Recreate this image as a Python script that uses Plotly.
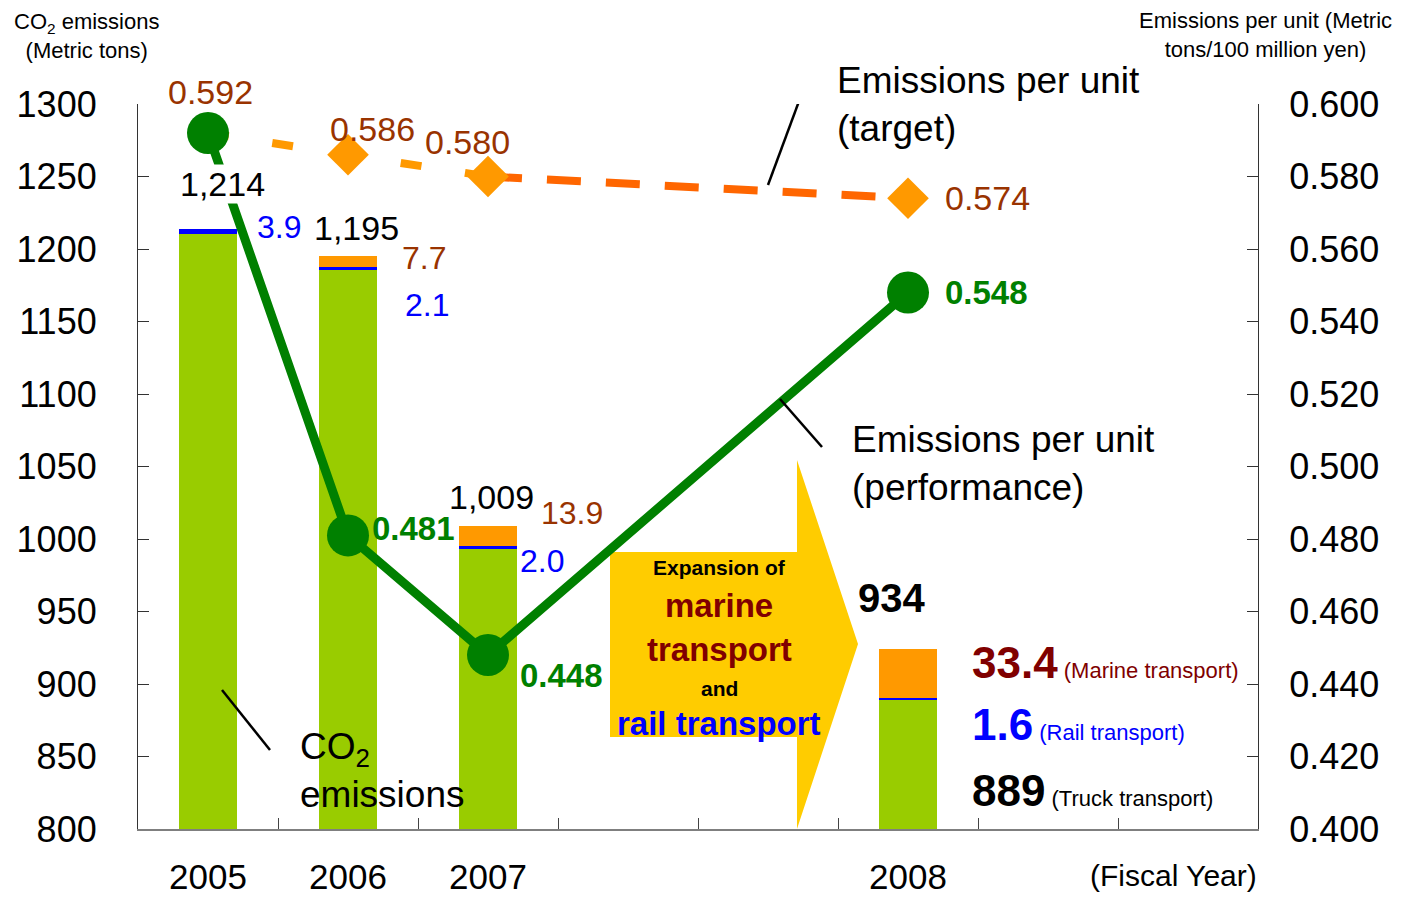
import plotly.graph_objects as go

# ---- data ---------------------------------------------------------------
years = ["2005", "2006", "2007", "2008"]
total_co2 = [1214, 1195, 1009, 934]          # metric tons
truck_co2 = [1210.1, 1185.2, 993.1, 889.0]
rail_co2 = [3.9, 2.1, 2.0, 1.6]
marine_co2 = [0.0, 7.7, 13.9, 33.4]
unit_target = [0.592, 0.586, 0.580, 0.574]   # t / 100 million yen
unit_actual = [0.592, 0.481, 0.448, 0.548]

# ---- layout constants ---------------------------------------------------
W, H = 1401, 897
L, R, T, B = 138, 143, 104, 68
X_SLOT = [0.5, 1.5, 2.5, 5.5]   # category centres on an 8-slot axis
FONT = "Liberation Sans, Arial, Helvetica, sans-serif"

GREEN_BAR = "#99CC00"
BLUE = "#0000FF"
ORANGE = "#FF9900"
DARK_ORANGE = "#FF6600"
GREEN = "#008000"
BROWN = "#993300"
MAROON = "#800000"
YELLOW = "#FFCC00"

SLOT_PX = (W - L - R) / 8
Y_PX = (H - T - B) / 500


def xd(px):
    return (px - L) / SLOT_PX


def xp(px):
    return (px - L) / (W - L - R)


def yd(py):
    return 1300 - (py - T) / Y_PX


def yp(py):
    return (H - B - py) / (H - T - B)


fig = go.Figure()

bar_w = 0.41
fig.add_bar(x=X_SLOT, y=truck_co2, width=bar_w, marker_color=GREEN_BAR,
            marker_line_width=0, name="Truck")
fig.add_bar(x=X_SLOT, y=rail_co2, width=bar_w, marker_color=BLUE,
            marker_line_width=0, name="Rail")
fig.add_bar(x=X_SLOT, y=marine_co2, width=bar_w, marker_color=ORANGE,
            marker_line_width=0, name="Marine")

# target line: first part lighter, last part darker
fig.add_scatter(x=X_SLOT[:3], y=unit_target[:3], yaxis="y2", mode="lines",
                line=dict(color=ORANGE, width=8, dash="21px,44px"))
fig.add_scatter(x=X_SLOT[2:], y=unit_target[2:], yaxis="y2", mode="lines",
                line=dict(color=DARK_ORANGE, width=8, dash="34px,25px"))
fig.add_scatter(x=X_SLOT[1:], y=unit_target[1:], yaxis="y2", mode="markers",
                marker=dict(symbol="diamond", size=32, color=ORANGE))

# performance line
fig.add_scatter(x=X_SLOT, y=unit_actual, yaxis="y2", mode="lines+markers",
                line=dict(color=GREEN, width=9),
                marker=dict(size=42, color=GREEN))

ann = []


def add(text, x, y, size, color="black", xref="x", yref="y", xanchor="center",
        yanchor="middle", xshift=0, yshift=0, bold=False,
        align="center", bg=None):
    if bold:
        text = f"<b>{text}</b>"
    d = dict(text=text, x=x, y=y, xref=xref, yref=yref, showarrow=False,
             xanchor=xanchor, yanchor=yanchor, xshift=xshift, yshift=yshift,
             align=align, font=dict(size=size, color=color, family=FONT))
    if bg:
        d["bgcolor"] = bg
        d["borderpad"] = 0
    ann.append(d)


# target values
tgt_shift = [(2, 41, "center"), (24, 26, "center"), (-21, 35, "center"), (35, 0, "left")]
for xs, v, (dx, dy, anc) in zip(X_SLOT, unit_target, tgt_shift):
    add(f"{v:.3f}", xs, v, 34, BROWN, yref="y2", xanchor=anc, xshift=dx, yshift=dy)

# performance values (base year shares the target label)
act_shift = [(22, 7), (30, -20), (35, 0)]
for xs, v, (dx, dy) in zip(X_SLOT[1:], unit_actual[1:], act_shift):
    add(f"{v:.3f}", xs, v, 33, GREEN, yref="y2", xanchor="left",
        xshift=dx, yshift=dy, bold=True)

# totals
tot_shift = [(14, 45), (8, 28), (3, 29)]
for xs, v, (dx, dy) in zip(X_SLOT[:3], total_co2[:3], tot_shift):
    add(f"{v:,}", xs, v, 34, "black", xshift=dx, yshift=dy,
        bg="white" if v == total_co2[0] else None)
add(f"{total_co2[3]:,}", X_SLOT[3], total_co2[3], 40, "black", xshift=-17,
    yshift=37, bold=True)

# breakdown labels for 2005-2007
add(f"{rail_co2[0]:.1f}", X_SLOT[0], total_co2[0], 32, BLUE, xanchor="left",
    xshift=47, yshift=2)
add(f"{marine_co2[1]:.1f}", X_SLOT[1], total_co2[1], 32, BROWN, xanchor="left",
    xshift=52, yshift=-2)
add(f"{rail_co2[1]:.1f}", X_SLOT[1], total_co2[1], 32, BLUE, xanchor="left",
    xshift=55, yshift=-49)
add(f"{marine_co2[2]:.1f}", X_SLOT[2], total_co2[2], 32, BROWN, xanchor="left",
    xshift=51, yshift=13)
add(f"{rail_co2[2]:.1f}", X_SLOT[2], total_co2[2], 32, BLUE, xanchor="left",
    xshift=30, yshift=-35)

# 2008 breakdown
small = "font-size:22px;font-weight:normal"
add(f"<b>{marine_co2[3]:.1f}</b><span style='{small}'> (Marine transport)</span>",
    X_SLOT[3], yd(662), 44, MAROON, xanchor="left", xshift=62)
add(f"<b>{rail_co2[3]:.1f}</b><span style='{small}'> (Rail transport)</span>",
    X_SLOT[3], yd(724), 44, BLUE, xanchor="left", xshift=62)
add(f"<b>{truck_co2[3]:.0f}</b><span style='{small}'> (Truck transport)</span>",
    X_SLOT[3], yd(790), 44, "black", xanchor="left", xshift=62)

# callouts
add("Emissions per unit<br>(target)", xd(835), yd(104), 37, xanchor="left",
    align="left")
add("Emissions per unit<br>(performance)", xd(850), yd(463), 37, xanchor="left",
    align="left")
add("CO<sub>2</sub><br>emissions", xd(298), yd(770), 37, xanchor="left",
    align="left")

# arrow text
add("Expansion of", xd(719), yd(567), 21, bold=True)
add("marine", xd(719), yd(605), 33, MAROON, bold=True)
add("transport", xd(719), yd(649), 33, MAROON, bold=True)
add("and", xd(719), yd(688), 21, bold=True)
add("rail transport", xd(719), yd(723), 33, BLUE, bold=True)

# axis titles and category labels
add("CO<sub>2</sub> emissions<br>(Metric tons)", xp(86), yp(36), 22,
    xref="paper", yref="paper")
add("Emissions per unit (Metric<br>tons/100 million yen)", xp(1265),
    yp(35), 22, xref="paper", yref="paper")
for xs, yr in zip(X_SLOT, years):
    add(yr, xs, yp(876), 35, yref="paper")
add("(Fiscal Year)", xd(1173), yp(875), 30, yref="paper")

# callout leader lines and the arrow
shapes = []
for (x0, y0, x1, y1) in [(805, 85, 768, 185), (780, 399, 822, 447),
                         (222, 690, 270, 750)]:
    shapes.append(dict(type="line", xref="x", yref="y", x0=xd(x0), y0=yd(y0),
                       x1=xd(x1), y1=yd(y1), line=dict(color="black", width=2.5)))
pts = [(610, 552), (797, 552), (797, 460), (858, 644), (797, 829),
       (797, 737), (610, 737)]
path = "M " + " L ".join(f"{xd(a):.4f},{yd(b):.4f}" for a, b in pts) + " Z"
shapes.append(dict(type="path", xref="x", yref="y", path=path,
                   fillcolor=YELLOW, line=dict(width=0), layer="below"))

fig.update_layout(
    width=W, height=H, autosize=False,
    margin=dict(l=L, r=R, t=T, b=B, pad=0),
    paper_bgcolor="white", plot_bgcolor="white",
    barmode="stack", showlegend=False,
    font=dict(family=FONT, color="black"),
    xaxis=dict(range=[0, 8], tickvals=list(range(9)), showticklabels=False,
               ticks="inside", ticklen=11, tickwidth=1.2, tickcolor="#444",
               showline=True, linecolor="#7f7f7f", linewidth=2,
               showgrid=False, zeroline=False, fixedrange=True),
    yaxis=dict(range=[800, 1300], dtick=50, ticks="inside", ticklen=11,
               tickwidth=1.2, tickcolor="#333", showline=True,
               linecolor="#333", linewidth=1.2, showgrid=False, zeroline=False,
               tickfont=dict(size=36), ticklabelstandoff=33),
    yaxis2=dict(range=[0.4, 0.6], dtick=0.02, tickformat=".3f",
                overlaying="y", side="right", ticks="inside", ticklen=11,
                tickwidth=1.2, tickcolor="#333", showline=True,
                linecolor="#333", linewidth=1.2, showgrid=False,
                zeroline=False, tickfont=dict(size=36), ticklabelstandoff=23),
    annotations=ann, shapes=shapes,
)

fig.write_html("out.html")
